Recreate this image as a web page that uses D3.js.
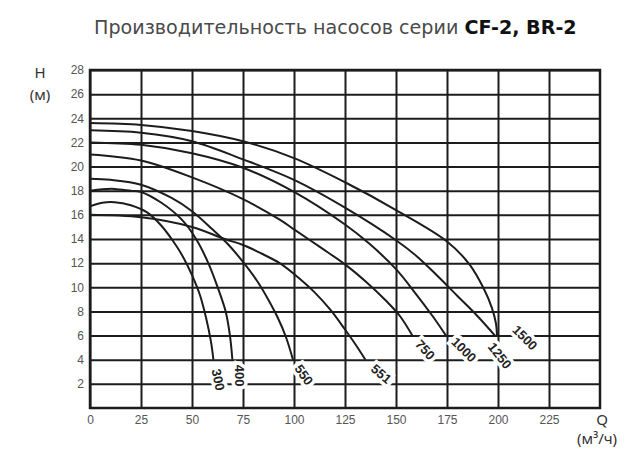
<!DOCTYPE html>
<html>
<head>
<meta charset="utf-8">
<script src="https://cdn.jsdelivr.net/npm/d3@7"></script>
<style>
    body { margin: 0; background: #fff; }
    svg { display: block; }
</style>
</head>
<body>
<div id="chart"></div>
<script>
// --- Data (Q in m3/h, H in m) ---
const qTicks = [0, 25, 50, 75, 100, 125, 150, 175, 200, 225];
const hTicks = [2, 4, 6, 8, 10, 12, 14, 16, 18, 20, 22, 24, 26, 28];

const pumpModels = ['300', '400', '550', '551', '750', '1000', '1250', '1500'];

const curve300 = [[0, 16.7], [6, 17.0], [12, 17.05], [20, 16.8], [28, 16.2], [35, 15.1], [40, 14.0],
    [45, 12.7], [50, 11.0], [54, 9.3], [57, 7.4], [59.3, 5.5], [60.5, 4]];
const curve400 = [[0, 18.0], [6, 18.12], [12, 18.15], [20, 18.0], [25, 17.9], [35, 17.0], [45, 15.6],
    [52, 14.0], [58, 12.0], [63, 9.8], [66.5, 8], [68.6, 6], [69.8, 4]];
const curve550 = [[0, 19.0], [10, 18.9], [25, 18.5], [40, 17.4], [50, 16.3], [60, 14.8], [68, 13.5],
    [75, 12.1], [82, 10.5], [87, 9.1], [92, 7.5], [96, 5.9], [99.5, 4]];
const curve551 = [[0, 16.0], [25, 15.8], [50, 15.0], [66, 14.0], [75, 13.5], [84, 12.8], [93, 12.0],
    [100, 11.1], [110, 9.6], [118, 8.1], [125, 6.5], [130, 5.3], [135, 4]];
const curve750 = [[0, 21.0], [25, 20.5], [50, 19.1], [75, 17.3], [93, 15.6], [100, 14.8], [113, 13.3],
    [125, 11.9], [135, 10.5], [145, 8.9], [152, 7.6], [158, 6]];
const curve1000 = [[0, 22.0], [25, 21.8], [50, 21.1], [75, 19.9], [100, 17.9], [125, 15.2], [137, 13.6],
    [150, 11.5], [160, 9.4], [168, 7.6], [174.5, 6]];
const curve1250 = [[0, 23.0], [25, 22.8], [50, 22.1], [75, 20.6], [100, 18.9], [125, 16.6], [150, 13.9],
    [160, 12.6], [170, 11.0], [180, 9.3], [190, 7.6], [198.5, 6]];
const curve1500 = [[0, 23.6], [25, 23.45], [50, 22.95], [75, 22.1], [100, 20.7], [125, 18.7], [150, 16.4],
    [175, 13.8], [186, 11.9], [193, 9.9], [197, 8.3], [199, 7.0], [199.5, 6]];

const pumpCurves = [curve300, curve400, curve550, curve551, curve750, curve1000, curve1250, curve1500];

// label placement relative to curve end (pixels, degrees)
const labelLayout = [
    { dx: 5, dy: 20, rot: 78 },
    { dx: 7, dy: 16, rot: 90 },
    { dx: 11, dy: 15, rot: 55 },
    { dx: 16, dy: 14, rot: 40 },
    { dx: 13, dy: 14, rot: 48 },
    { dx: 18, dy: 14, rot: 45 },
    { dx: 5, dy: 20, rot: 52 },
    { dx: 28, dy: 2, rot: 45 }
];

const W = 638, H = 461;
const plot = { left: 90, right: 600, top: 70, bottom: 408 };
const ink = '#1c1c1c';

const svg = d3.select('#chart')
    .append('svg')
    .attr('width', W)
    .attr('height', H);

// Title, fitted to the width of the original heading
const title = svg.append('text')
    .attr('x', 94)
    .attr('y', 34)
    .style('font-family', '"DejaVu Sans", "Noto Sans", sans-serif')
    .style('font-size', '18px')
    .style('fill', '#4a4a4a');
title.append('tspan').text('Производительность насосов серии ');
title.append('tspan').style('font-weight', '700').style('fill', '#111').text('CF-2, BR-2');
const titleLen = title.node().getComputedTextLength();
if (titleLen > 0) title.style('font-size', (18 * 483 / titleLen).toFixed(2) + 'px');

// Scales
const x = d3.scaleLinear().domain([0, 250]).range([plot.left, plot.right]);
const y = d3.scaleLinear().domain([0, 28]).range([plot.bottom, plot.top]);

const pw = plot.right - plot.left;
const ph = plot.bottom - plot.top;

// Y axis + horizontal grid
const yAxis = svg.append('g')
    .attr('transform', `translate(${plot.left},0)`)
    .call(d3.axisLeft(y).tickValues(hTicks).tickSizeInner(-pw).tickSizeOuter(0).tickPadding(6));
yAxis.select('.domain').remove();
yAxis.selectAll('line').attr('stroke', ink).attr('stroke-width', 2);
yAxis.selectAll('text')
    .style('font-family', '"Liberation Sans", Arial, sans-serif')
    .style('font-size', '12px')
    .style('fill', '#555');

// X axis + vertical grid
const xAxis = svg.append('g')
    .attr('transform', `translate(0,${plot.bottom})`)
    .call(d3.axisBottom(x).tickValues(qTicks).tickSizeInner(-ph).tickSizeOuter(0).tickPadding(7));
xAxis.select('.domain').remove();
xAxis.selectAll('line').attr('stroke', ink).attr('stroke-width', 2);
xAxis.selectAll('text')
    .style('font-family', '"Liberation Sans", Arial, sans-serif')
    .style('font-size', '12px')
    .style('fill', '#555');

// Frame
svg.append('rect')
    .attr('x', plot.left)
    .attr('y', plot.top)
    .attr('width', pw)
    .attr('height', ph)
    .attr('fill', 'none')
    .attr('stroke', ink)
    .attr('stroke-width', 2.5);

// Pump curves
const line = d3.line()
    .x(d => x(d[0]))
    .y(d => y(d[1]))
    .curve(d3.curveCatmullRom.alpha(0.5));

svg.append('g')
    .selectAll('path')
    .data(pumpCurves)
    .enter()
    .append('path')
    .attr('d', line)
    .attr('fill', 'none')
    .attr('stroke', ink)
    .attr('stroke-width', 2);

// Model labels, white halo breaks the grid like in the original
svg.append('g')
    .selectAll('text')
    .data(pumpModels)
    .enter()
    .append('text')
    .attr('transform', (d, i) => {
        const end = pumpCurves[i][pumpCurves[i].length - 1];
        const lay = labelLayout[i];
        return `translate(${x(end[0]) + lay.dx},${y(end[1]) + lay.dy}) rotate(${lay.rot})`;
    })
    .attr('text-anchor', 'middle')
    .attr('dy', '0.36em')
    .style('font-family', '"Liberation Sans", Arial, sans-serif')
    .style('font-size', '13px')
    .style('font-weight', '700')
    .style('fill', '#222')
    .style('stroke', '#fff')
    .style('stroke-width', 7)
    .style('paint-order', 'stroke')
    .text(d => d);

// Axis titles
const axisFont = '"Noto Sans", "Open Sans", sans-serif';
svg.append('text').attr('x', 40).attr('y', 78).attr('text-anchor', 'middle')
    .style('font-family', axisFont).style('font-size', '15px').style('fill', '#333').text('H');
svg.append('text').attr('x', 40).attr('y', 100).attr('text-anchor', 'middle')
    .style('font-family', axisFont).style('font-size', '15px').style('fill', '#333').text('(м)');
svg.append('text').attr('x', 602).attr('y', 425).attr('text-anchor', 'middle')
    .style('font-family', axisFont).style('font-size', '15px').style('fill', '#333').text('Q');
svg.append('text').attr('x', 597).attr('y', 444).attr('text-anchor', 'middle')
    .style('font-family', axisFont).style('font-size', '15px').style('fill', '#333').text('(м³/ч)');
</script>
</body>
</html>
